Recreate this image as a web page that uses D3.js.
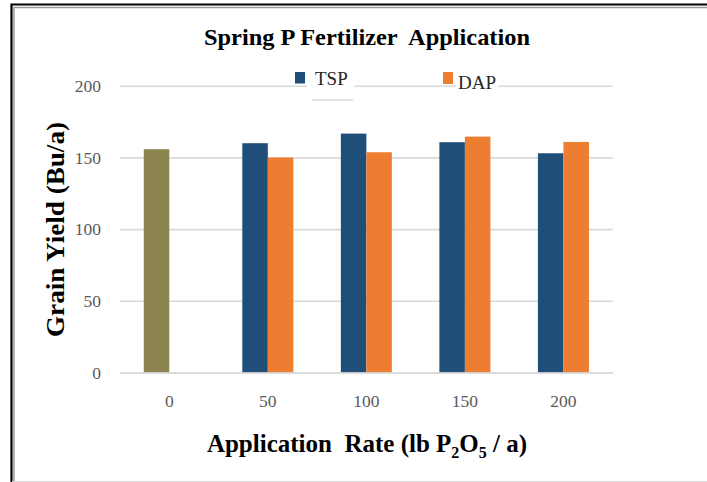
<!DOCTYPE html>
<html lang='en'>
  <head>
    <meta charset='utf-8'>
    <title>Spring P Fertilizer Application</title>
    <script src='https://d3js.org/d3.v7.min.js'></script>
    <style>
      html, body { margin: 0; padding: 0; background: #fff; }
      svg { display: block; }
      text { white-space: pre; }
    </style>
  </head>
  <body>
    <div class='vis'></div>
    <script>
      // data
      const rates = ['0', '50', '100', '150', '200'];
      const series = ['TSP', 'DAP'];
      const tspYield = [155.7, 159.9, 166.6, 160.6, 152.9];
      const dapYield = [null, 149.9, 153.6, 164.5, 160.8];
      const yTicks = [0, 50, 100, 150, 200];

      const colors = {TSP: '#1f4e79', DAP: '#ed7d31', control: '#8c8451'};

      const width = 707, height = 482;
      const plot = {left: 120, right: 612.7, top: 85.7, bottom: 372.5};
      const serif = 'Liberation Serif, serif';

      const svg = d3.select('.vis')
        .append('svg')
          .attr('width', width)
          .attr('height', height);

      // frame
      svg.append('path')
        .attr('d', 'M12.5,' + height + 'V6H' + width)
        .attr('fill', 'none')
        .attr('stroke', '#9a9a9a')
        .attr('stroke-width', 1.5)
        .attr('transform', 'translate(1.5,1.5)');
      svg.append('path')
        .attr('d', 'M11.5,' + height + 'V4.5H' + width)
        .attr('fill', 'none')
        .attr('stroke', '#000')
        .attr('stroke-width', 2.2);
      svg.append('line')
        .attr('x1', 12).attr('x2', width)
        .attr('y1', 481.5).attr('y2', 481.5)
        .attr('stroke', '#d9d9d9');

      const x0 = d3.scaleBand()
        .domain(rates)
        .range([plot.left, plot.right]);

      const x1 = d3.scaleBand()
        .domain(series)
        .range([0, x0.bandwidth()])
        .paddingOuter(0.932);

      const y = d3.scaleLinear()
        .domain([0, 200])
        .range([plot.bottom, plot.top]);

      // gridlines
      const yAxis = d3.axisLeft(y)
        .tickValues(yTicks)
        .tickSize(-(plot.right - plot.left))
        .tickPadding(19);
      const gy = svg.append('g')
        .attr('transform', 'translate(' + plot.left + ',0)')
        .call(yAxis);
      gy.select('.domain').remove();
      gy.selectAll('.tick line')
        .attr('stroke', '#d9d9d9')
        .attr('stroke-width', 1.6);
      gy.selectAll('.tick text')
        .attr('fill', '#595959')
        .style('font-family', serif)
        .style('font-size', '17.5px');

      // bars
      const rows = rates.map((r, i) => ({rate: r, TSP: tspYield[i], DAP: dapYield[i]}));
      const groups = svg.append('g').selectAll('g')
        .data(rows).enter()
        .append('g')
          .attr('transform', (d) => 'translate(' + x0(d.rate) + ',0)');
      groups.selectAll('rect')
        .data((d) => series.map((s) => ({rate: d.rate, key: s, value: d[s]})).filter((d) => d.value != null))
        .enter().append('rect')
          .attr('x', (d) => x1(d.key))
          .attr('width', x1.bandwidth())
          .attr('y', (d) => y(d.value))
          .attr('height', (d) => y(0) - y(d.value))
          .attr('fill', (d) => d.rate === '0' ? colors.control : colors[d.key]);

      // x axis
      const xAxis = d3.axisBottom(x0).tickSize(0).tickPadding(22);
      const gx = svg.append('g')
        .attr('transform', 'translate(0,' + plot.bottom + ')')
        .call(xAxis);
      gx.select('.domain')
        .attr('stroke', '#d9d9d9')
        .attr('stroke-width', 1.6);
      gx.selectAll('.tick text')
        .attr('fill', '#595959')
        .style('font-family', serif)
        .style('font-size', '17.5px');

      // titles
      svg.append('text')
        .attr('x', 367).attr('y', 45)
        .attr('text-anchor', 'middle')
        .attr('textLength', 326)
        .attr('lengthAdjust', 'spacingAndGlyphs')
        .style('font-family', serif)
        .style('font-weight', 'bold')
        .style('font-size', '24px')
        .text('Spring P Fertilizer  Application');

      svg.append('text')
        .attr('transform', 'translate(64,229.5) rotate(-90)')
        .attr('text-anchor', 'middle')
        .attr('textLength', 215)
        .attr('lengthAdjust', 'spacingAndGlyphs')
        .style('font-family', serif)
        .style('font-weight', 'bold')
        .style('font-size', '25px')
        .text('Grain Yield (Bu/a)');

      const xt = svg.append('text')
        .attr('x', 367).attr('y', 452)
        .attr('text-anchor', 'middle')
        .style('font-family', serif)
        .style('font-weight', 'bold')
        .style('font-size', '25px');
      xt.append('tspan').text('Application  Rate (lb P');
      xt.append('tspan').attr('dy', 6).style('font-size', '16px').text('2');
      xt.append('tspan').attr('dy', -6).text('O');
      xt.append('tspan').attr('dy', 6).style('font-size', '16px').text('5');
      xt.append('tspan').attr('dy', -6).text(' / a)');

      // legend
      const legend = svg.append('g');
      legend.append('rect')
        .attr('x', 307).attr('y', 80).attr('width', 47).attr('height', 12)
        .attr('fill', '#fff');
      legend.append('rect')
        .attr('x', 456).attr('y', 80).attr('width', 42).attr('height', 12)
        .attr('fill', '#fff');
      legend.append('line')
        .attr('x1', 312).attr('x2', 353)
        .attr('y1', 100).attr('y2', 100)
        .attr('stroke', '#c8c8c8');
      legend.append('rect')
        .attr('x', 295).attr('y', 72).attr('width', 10).attr('height', 11.5)
        .attr('fill', colors.TSP);
      legend.append('rect')
        .attr('x', 443).attr('y', 72).attr('width', 10).attr('height', 12)
        .attr('fill', colors.DAP);
      legend.append('text')
        .attr('x', 315).attr('y', 85)
        .attr('fill', '#262626')
        .style('font-family', serif)
        .style('font-size', '19px')
        .text('TSP');
      legend.append('text')
        .attr('x', 458).attr('y', 88.5)
        .attr('fill', '#262626')
        .style('font-family', serif)
        .style('font-size', '19px')
        .text('DAP');
    </script>
  </body>
</html>
